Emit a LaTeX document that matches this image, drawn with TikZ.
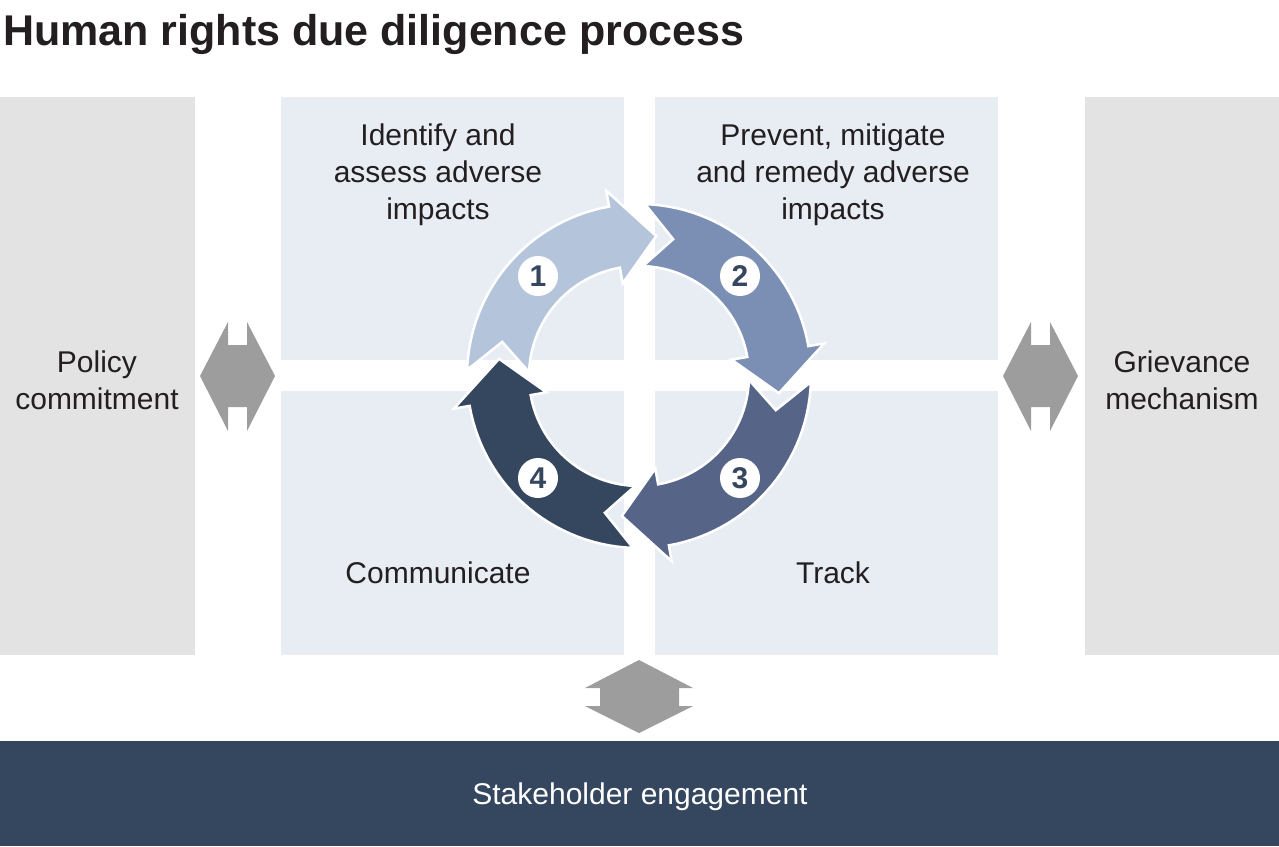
\documentclass[tikz,border=0pt]{standalone}
\usepackage{fontspec}
\setmainfont{Liberation Sans}
\begin{document}
\begin{tikzpicture}[x=1pt,y=-1pt,
  side/.style={fill=sidegray,draw=none},
  quad/.style={fill=quadblue,draw=none},
  lbl/.style={align=center,text=textc,font=\fontsize{30}{37}\selectfont},
  num/.style={circle,fill=white,minimum size=40pt,inner sep=0pt,text=c4,font=\fontsize{30}{30}\selectfont\bfseries},
  dbl/.style={fill=arrgray,draw=none}]
\definecolor{sidegray}{HTML}{E3E3E3}
\definecolor{quadblue}{HTML}{E8EDF4}
\definecolor{textc}{HTML}{231F20}
\definecolor{arrgray}{HTML}{9D9D9D}
\definecolor{c1}{HTML}{B3C4DB}
\definecolor{c2}{HTML}{7B8FB5}
\definecolor{c3}{HTML}{566587}
\definecolor{c4}{HTML}{35465F}
\useasboundingbox (0,0) rectangle (1279,846);
\node[anchor=base west,inner sep=0pt,text=textc,font=\fontsize{43}{43}\selectfont\bfseries] (title) at (3,45) {Human rights due diligence process};
\fill[side] (0,97) rectangle (195,655);
\fill[side] (1085,97) rectangle (1279,655);
\fill[quad] (281,97) rectangle (624,360);
\fill[quad] (655,97) rectangle (998,360);
\fill[quad] (281,391) rectangle (624,655);
\fill[quad] (655,391) rectangle (998,655);
\node[lbl] (policy) at (97,380) {Policy\\commitment};
\node[lbl] (griev) at (1182,380) {Grievance\\mechanism};
\node[lbl,anchor=north] (identify) at (438,120) {Identify and\\assess adverse\\impacts};
\node[lbl,anchor=north] (prevent) at (833,120) {Prevent, mitigate\\and remedy adverse\\impacts};
\node[lbl] (comm) at (438,573) {Communicate};
\node[lbl] (track) at (833,573) {Track};
\fill[dbl] (200,376)--(228,322)--(228,345)--(247,345)--(247,322)--(275,376)--(247,431)--(247,407)--(228,407)--(228,431)--cycle;
\fill[dbl] (1003,376)--(1031,322)--(1031,345)--(1050,345)--(1050,322)--(1078,376)--(1050,431)--(1050,407)--(1031,407)--(1031,431)--cycle;
\fill[dbl] (639,660)--(693,688)--(679,688)--(679,706)--(693,706)--(639,733)--(585,706)--(600,706)--(600,688)--(585,688)--cycle;
\fill[c4] (0,741) rectangle (1279,846);
\node[text=white,font=\fontsize{30}{30}\selectfont] (stake) at (640,797) {Stakeholder engagement};
\begin{scope}[shift={(639,376)}]
\foreach \b/\c in {182/c1,272/c2,362/c3,452/c4}{
  \pgfmathsetmacro\e{\b+78}
  \pgfmathsetmacro\n{\b+12}
  \pgfmathsetmacro\t{\b+95}
  \fill[\c,draw=white,line width=2.5pt,line join=miter]
    (\b:172) -- (\n:141) -- (\b:110)
    -- plot[domain=\b:\e,samples=30] (\x:110)
    -- (\e:94) -- (\t:141) -- (\e:188)
    -- plot[domain=\e:\b,samples=30] (\x:172) -- cycle;
}
\end{scope}
\node[num] (n1) at (538,276) {1};
\node[num] (n2) at (740,276) {2};
\node[num] (n3) at (740,478) {3};
\node[num] (n4) at (538,478) {4};
\end{tikzpicture}
\end{document}
